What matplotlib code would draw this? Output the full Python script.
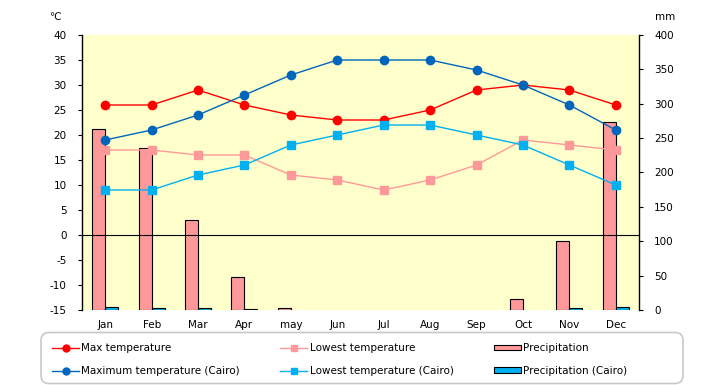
import numpy as np
from matplotlib import pyplot as plt
from matplotlib.lines import Line2D
from matplotlib.patches import Patch, FancyBboxPatch

plt.rcParams['font.family'] = ['DejaVu Sans']
plt.rcParams['font.size'] = 7.5
plt.rcParams['axes.unicode_minus'] = False

months = ['Jan', 'Feb', 'Mar', 'Apr', 'may', 'Jun', 'Jul', 'Aug', 'Sep', 'Oct', 'Nov', 'Dec']

max_temp = [26, 26, 29, 26, 24, 23, 23, 25, 29, 30, 29, 26]
low_temp = [17, 17, 16, 16, 12, 11, 9, 11, 14, 19, 18, 17]
precip = [263, 235, 131, 48, 3, 0, 0, 0, 0, 16, 101, 274]

max_cairo = [19, 21, 24, 28, 32, 35, 35, 35, 33, 30, 26, 21]
low_cairo = [9, 9, 12, 14, 18, 20, 22, 22, 20, 18, 14, 10]
precip_cairo = [5, 2.5, 2.5, 1, 0, 0, 0, 0, 0, 0, 2.5, 4]

c_red = '#FF0000'
c_pink = '#FF9999'
c_blue = '#0066BB'
c_lblue = '#00B0F0'

x = np.arange(len(months))

fig = plt.figure(figsize=(7.2, 3.85), dpi=100)
ax = fig.add_axes([82 / 720, 75 / 385, 557 / 720, 275 / 385])
ax2 = ax.twinx()

# bars on the right axis, lines on the left one drawn above
ax2.patch.set_visible(True)
ax2.set_facecolor('#FFFFCC')
ax.set_zorder(ax2.get_zorder() + 1)
ax.patch.set_visible(False)

bw = 0.28
p = np.array(precip, dtype=float)
pc = np.array(precip_cairo, dtype=float)
ax2.bar(x[p > 0], p[p > 0], width=-bw, align='edge', color=c_pink, edgecolor='black', linewidth=0.8)
ax2.bar(x[pc > 0], pc[pc > 0], width=bw, align='edge', color=c_lblue, edgecolor='black', linewidth=0.8)

ax.axhline(0, color='black', linewidth=0.8)
ax.plot(x, max_temp, color=c_red, marker='o', markersize=6, linewidth=1)
ax.plot(x, low_temp, color=c_pink, marker='s', markersize=6, linewidth=1)
ax.plot(x, max_cairo, color=c_blue, marker='o', markersize=6, linewidth=1)
ax.plot(x, low_cairo, color=c_lblue, marker='s', markersize=6, linewidth=1)

ax.set_xlim(-0.5, 11.5)
ax.set_ylim(-15, 40)
ax.set_yticks(range(-15, 41, 5))
ax2.set_ylim(0, 400)
ax2.set_yticks(range(0, 401, 50))
ax.set_xticks(x)
ax.set_xticklabels(months)

for a in (ax, ax2):
    a.spines['top'].set_visible(False)
    a.spines['bottom'].set_visible(False)
    a.tick_params(axis='x', length=0, pad=7)
    a.tick_params(axis='y', length=3, width=0.8, pad=8)
ax.spines['right'].set_visible(False)
ax2.spines['left'].set_visible(False)
ax2.spines['right'].set_linewidth(1)
ax.spines['left'].set_linewidth(1)

fig.text(55 / 720, 1 - 17 / 385, '\u2103', ha='center', va='center')
fig.text(665 / 720, 1 - 17 / 385, 'mm', ha='center', va='center')

# legend frame, wider than the entries
frame = FancyBboxPatch((0.41, 0.015), 6.42, 0.51,
                       boxstyle='round,pad=0,rounding_size=0.08',
                       transform=fig.dpi_scale_trans,
                       facecolor='white', edgecolor='#C8C8C8', linewidth=1.2)
fig.patches.append(frame)

handles = [
    Line2D([], [], color=c_red, marker='o', markersize=5, linewidth=1),
    Line2D([], [], color=c_blue, marker='o', markersize=5, linewidth=1),
    Line2D([], [], color=c_pink, marker='s', markersize=5, linewidth=1),
    Line2D([], [], color=c_lblue, marker='s', markersize=5, linewidth=1),
    Patch(facecolor=c_pink, edgecolor='black', linewidth=0.8),
    Patch(facecolor=c_lblue, edgecolor='black', linewidth=0.8),
]
labels = ['Max temperature', 'Maximum temperature (Cairo)',
          'Lowest temperature', 'Lowest temperature (Cairo)',
          'Precipitation', 'Precipitation (Cairo)']
leg = fig.legend(handles, labels, ncol=3, loc='center left',
                 bbox_to_anchor=(52 / 720, 1 - 359.5 / 385),
                 frameon=False,
                 handlelength=2.6, handleheight=0.4, handletextpad=0.2,
                 columnspacing=3.9, labelspacing=1.2, borderpad=0,
                 borderaxespad=0)

fig.savefig('out.png', dpi=100)
